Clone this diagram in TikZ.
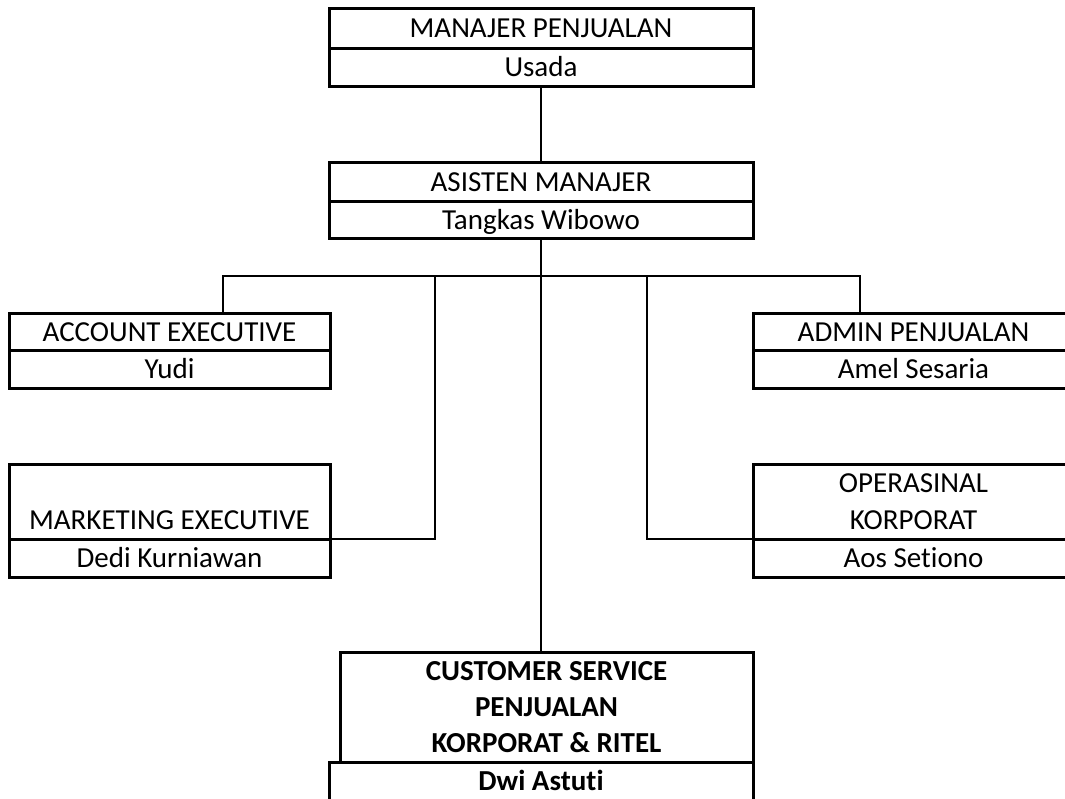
\documentclass[tikz,border=0pt]{standalone}
\usepackage{fontspec}
\setmainfont{Carlito}[Ligatures={NoCommon}]
\usetikzlibrary{positioning,calc}
\newcommand{\chartfont}{\fontsize{29pt}{37pt}\selectfont}
\newcommand{\csfont}{\fontsize{29pt}{36pt}\selectfont\bfseries}

\begin{document}
\begin{tikzpicture}[x=1pt,y=-1pt]
			\tikzstyle{cell}=[draw,line width=3pt,outer sep=0pt,inner sep=0pt,align=center,font=\chartfont]
			\tikzstyle{widecell}=[cell,minimum width=424pt]
			\tikzstyle{sidecell}=[cell,minimum width=321pt]
			\tikzstyle{oneline}=[text height=19pt,text depth=0pt]
			\tikzstyle{link}=[draw,line width=2pt]
			\useasboundingbox (0,0) rectangle (1065,798);
			\clip (0,0) rectangle (1065,798);
			% top of the chart
			\node[widecell,oneline,minimum height=40pt]                 (mgr) at (541,28)      {MANAJER PENJUALAN};
			\node[widecell,oneline,minimum height=38pt,below=0pt of mgr]  (mgrn)                 {Usada};
			\node[widecell,oneline,minimum height=39pt,below=76pt of mgrn](asst)                 {ASISTEN MANAJER};
			\node[widecell,oneline,minimum height=37pt,below=0pt of asst] (asstn)                {Tangkas Wibowo};
			% staff on the sides
			\node[sidecell,oneline,minimum height=37pt]                 (acct) at (169.5,331.5) {ACCOUNT EXECUTIVE};
			\node[sidecell,oneline,minimum height=38pt,below=0pt of acct] (acctn)                {Yudi};
			\node[sidecell,oneline,minimum height=37pt]                 (admin) at (913.5,331.5) {ADMIN PENJUALAN};
			\node[sidecell,oneline,minimum height=38pt,below=0pt of admin](adminn)               {Amel Sesaria};
			\node[sidecell,minimum height=75pt]                         (mkt) at (169.5,501.5)  {\vphantom{M}\\MARKETING EXECUTIVE};
			\node[sidecell,oneline,minimum height=38pt,below=0pt of mkt]  (mktn)                 {Dedi Kurniawan};
			\node[sidecell,minimum height=75pt]                         (ops) at (913.5,501.5)  {OPERASINAL\\KORPORAT};
			\node[sidecell,oneline,minimum height=38pt,below=0pt of ops]  (opsn)                 {Aos Setiono};
			% customer service
			\node[cell,minimum width=413pt,minimum height=110pt,font=\csfont] (cs) at (546.5,707) {CUSTOMER SERVICE\\PENJUALAN\\KORPORAT \& RITEL};
			\node[widecell,oneline,minimum height=38pt,anchor=north,font=\csfont] (csn) at (cs.south -| asstn) {Dwi Astuti};
			% connectors
			\coordinate[below=38pt of asstn] (bus);
			\coordinate (acctin) at ($(acct.north)+(53.5,0)$);
			\coordinate (adminin) at ($(admin.north)+(-53.5,0)$);
			\coordinate (mktup) at ($(bus)+(-106,0)$);
			\coordinate (opsup) at ($(bus)+(106,0)$);
			\draw[link] (mgrn) -- (asst);
			\draw[link] (asstn) -- (asstn |- cs.north);
			\draw[link] (acctin) |- (bus) -| (adminin);
			\draw[link] (mkt.south east) -| (mktup);
			\draw[link] (ops.south west) -| (opsup);
\end{tikzpicture}
\end{document}
